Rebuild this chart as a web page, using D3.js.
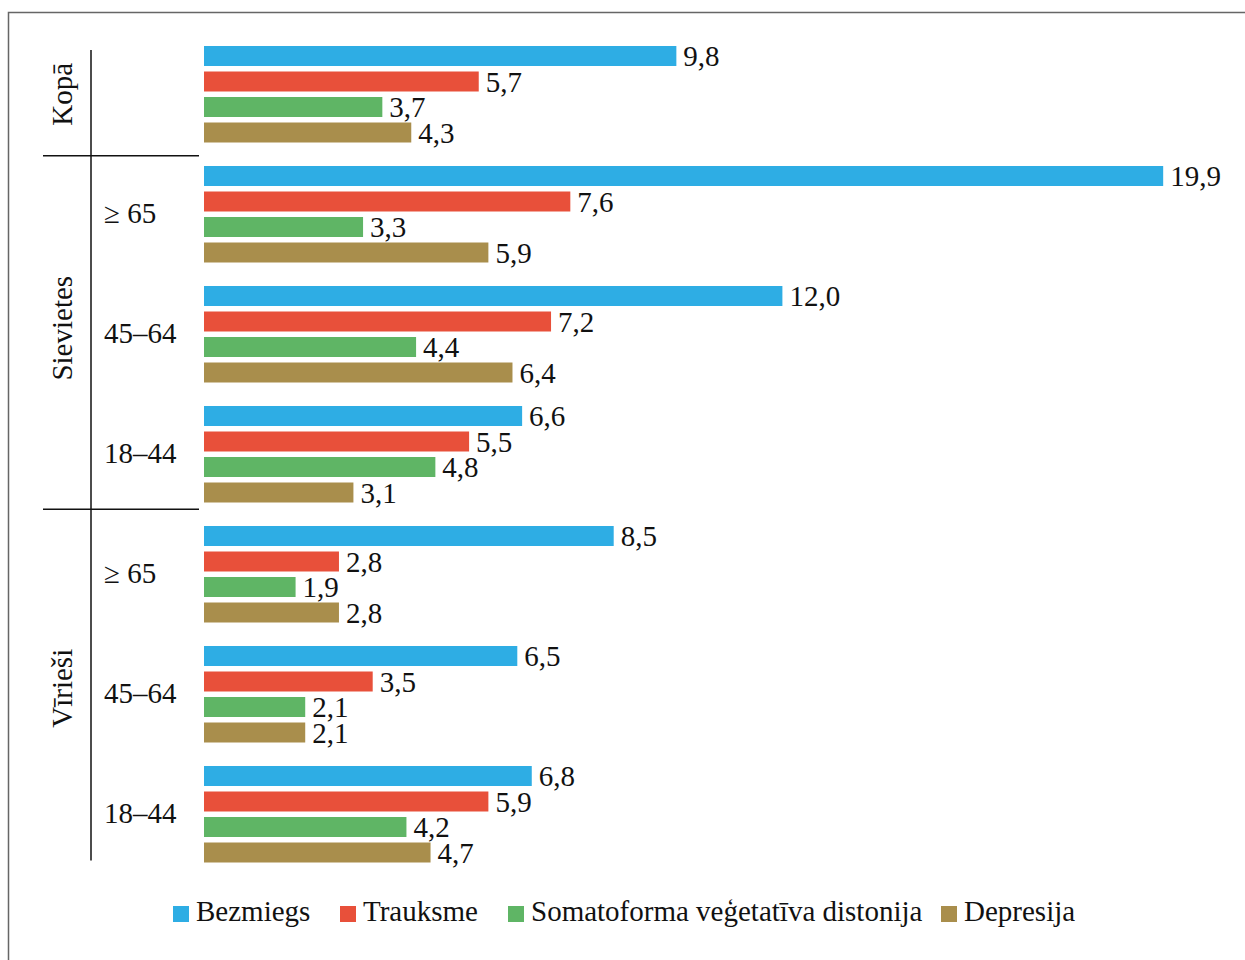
<!DOCTYPE html>
<html>
<head>
<meta charset="utf-8">
<script src="https://cdn.jsdelivr.net/npm/d3@7"></script>
<style>
  body { margin: 0; background: #fff; }
  text { font-family: "Liberation Serif", "Times New Roman", serif; fill: #111; }
</style>
</head>
<body>
<div id="chart-area"></div>
<script>
// data
let sections = ["Kopā", "Sievietes", "Vīrieši"];
let groupSection = [0, 1, 1, 1, 2, 2, 2];
let groupAge = ["", "≥ 65", "45–64", "18–44", "≥ 65", "45–64", "18–44"];
let seriesNames = ["Bezmiegs", "Trauksme", "Somatoforma veģetatīva distonija", "Depresija"];
let bezmiegs = [9.8, 19.9, 12.0, 6.6, 8.5, 6.5, 6.8];
let trauksme = [5.7, 7.6, 7.2, 5.5, 2.8, 3.5, 5.9];
let somatoforma = [3.7, 3.3, 4.4, 4.8, 1.9, 2.1, 4.2];
let depresija = [4.3, 5.9, 6.4, 3.1, 2.8, 2.1, 4.7];
let colors = ["#2eade4", "#e8503a", "#5fb565", "#a98e4c"];

let seriesValues = [bezmiegs, trauksme, somatoforma, depresija];
let groupIds = groupAge.map((d, i) => "g" + i);

let width = 1245, height = 960;
let fontSize = 29;

let svg = d3.select("#chart-area").append("svg")
	.attr("width", width)
	.attr("height", height);

// frame
svg.append("rect")
	.attr("x", 8.5).attr("y", 12.5)
	.attr("width", 1300).attr("height", 1000)
	.attr("fill", "none")
	.attr("stroke", "#666")
	.attr("stroke-width", 1.5);

// scales
let x = d3.scaleLinear().domain([0, 20]).range([204, 1168]);
let y = d3.scaleBand().domain(groupIds).range([46, 886]).paddingInner(0).paddingOuter(0);
let ySeries = d3.scaleBand().domain(seriesNames).range([0, 96.5]).paddingInner(0.2157).paddingOuter(0);
let fmt = v => d3.format(".1f")(v).replace(".", ",");

// bars
let rows = [];
groupIds.forEach((g, gi) => {
	seriesNames.forEach((s, si) => {
		rows.push({g: g, s: s, v: seriesValues[si][gi], c: colors[si]});
	});
});

let barY = d => y(d.g) + ySeries(d.s);

svg.selectAll(".bar").data(rows).enter().append("rect")
	.attr("class", "bar")
	.attr("x", x(0))
	.attr("y", barY)
	.attr("width", d => x(d.v) - x(0))
	.attr("height", ySeries.bandwidth())
	.attr("fill", d => d.c);

svg.selectAll(".val").data(rows).enter().append("text")
	.attr("class", "val")
	.attr("x", d => x(d.v) + 7)
	.attr("y", d => barY(d) + ySeries.bandwidth() + 0.5)
	.attr("font-size", fontSize)
	.text(d => fmt(d.v));

// category axis: lines
let groupTop = i => y(groupIds[i]);
let groupBottom = i => y(groupIds[i]) + ySeries.range()[1];
let lastBar = y(groupIds[6]) + ySeries(seriesNames[3]) + ySeries.bandwidth();

svg.append("line")
	.attr("x1", 91).attr("x2", 91)
	.attr("y1", 50).attr("y2", lastBar - 2)
	.attr("stroke", "#111").attr("stroke-width", 1.5);

[1, 4].forEach(i => {
	let sy = (groupTop(i) + groupBottom(i - 1)) / 2 - (i === 1 ? -1.5 : 5);
	svg.append("line")
		.attr("x1", 43).attr("x2", 199)
		.attr("y1", sy).attr("y2", sy)
		.attr("stroke", "#111").attr("stroke-width", 1.5);
});

// age labels
groupAge.forEach((a, i) => {
	if (!a) return;
	let cy = y(groupIds[i]) + ySeries.range()[1] / 2;
	svg.append("text")
		.attr("x", 104)
		.attr("y", cy + 9)
		.attr("font-size", fontSize)
		.text(a);
});

// section labels
sections.forEach((s, si) => {
	let idx = groupSection.map((d, i) => d === si ? i : -1).filter(i => i >= 0);
	let top = groupTop(idx[0]);
	let bottom = groupBottom(idx[idx.length - 1]);
	let cy = (top + bottom) / 2 - (si === 0 ? 0 : 6);
	svg.append("text")
		.attr("transform", `translate(72, ${cy}) rotate(-90)`)
		.attr("text-anchor", "middle")
		.attr("font-size", fontSize)
		.text(s);
});

// legend
let legendX = [173, 340, 508, 941];
let legend = svg.selectAll(".legend").data(seriesNames).enter().append("g")
	.attr("class", "legend")
	.attr("transform", (d, i) => `translate(${legendX[i]}, 906)`);

legend.append("rect")
	.attr("width", 16).attr("height", 16)
	.attr("fill", (d, i) => colors[i]);

legend.append("text")
	.attr("x", 23)
	.attr("y", 15)
	.attr("font-size", fontSize)
	.text(d => d);
</script>
</body>
</html>
